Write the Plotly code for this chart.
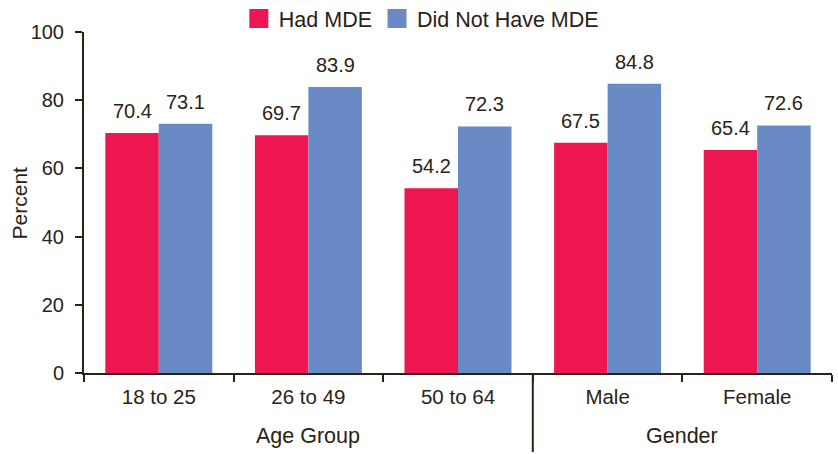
import plotly.graph_objects as go

# Percent by age group and gender, split by major depressive episode status
categories = ["18 to 25", "26 to 49", "50 to 64", "Male", "Female"]
had_mde = [70.4, 69.7, 54.2, 67.5, 65.4]
no_mde = [73.1, 83.9, 72.3, 84.8, 72.6]
series_names = ["Had MDE", "Did Not Have MDE"]
y_ticks = [0, 20, 40, 60, 80, 100]
group_labels = ["Age Group", "Gender"]
y_title = "Percent"

RED = "#EE1651"
BLUE = "#6A8AC5"
INK = "#2B2216"
FONT = "Liberation Sans, Arial, Helvetica, sans-serif"
BARGAP = 0.285

fig = go.Figure()

for name, vals, col in [(series_names[0], had_mde, RED), (series_names[1], no_mde, BLUE)]:
    fig.add_trace(go.Bar(
        x=categories, y=vals, name=name, marker=dict(color=col, line=dict(width=0)),
        showlegend=False,
    ))
    # legend swatch
    fig.add_trace(go.Scatter(
        x=[None], y=[None], name=name, mode="markers",
        marker=dict(symbol="square", size=16, color=col, line=dict(color=col, width=3)),
        showlegend=True,
    ))

# value labels above each bar
half = (1 - BARGAP) / 4
annotations = []
for i, cat in enumerate(categories):
    for vals, off in [(had_mde, -half), (no_mde, half)]:
        annotations.append(dict(
            x=i + off, y=vals[i], xref="x", yref="y", text=f"{vals[i]:.1f}",
            showarrow=False, yanchor="bottom", xanchor="center", yshift=9,
            font=dict(family=FONT, size=20, color=INK),
        ))

# group labels under the category axis
for label, xpos in zip(group_labels, [1, 3.5]):
    annotations.append(dict(
        x=xpos, y=-0.186, xref="x", yref="paper", text=label, showarrow=False,
        xanchor="center", yanchor="middle",
        font=dict(family=FONT, size=21.5, color=INK),
    ))

# rotated y-axis title
annotations.append(dict(
    x=-0.0856, y=0.5, xref="paper", yref="paper", text=y_title, showarrow=False,
    textangle=-90, xanchor="center", yanchor="middle",
    font=dict(family=FONT, size=21, color=INK),
))

fig.update_layout(
    width=838, height=454,
    margin=dict(l=84, r=6, t=32, b=81, pad=0, autoexpand=False),
    paper_bgcolor="white", plot_bgcolor="white",
    barmode="group", bargap=BARGAP, bargroupgap=0,
    font=dict(family=FONT, size=20, color=INK),
    showlegend=True,
    legend=dict(
        orientation="h", x=0.207, xanchor="left", y=1.0396, yanchor="middle",
        font=dict(family=FONT, size=21.5, color=INK), itemsizing="trace",
        bgcolor="rgba(0,0,0,0)", borderwidth=0,
    ),
    annotations=annotations,
    shapes=[dict(
        type="line", xref="paper", yref="paper", x0=0.6, x1=0.6, y0=0, y1=-0.232,
        line=dict(color=INK, width=2),
    )],
)

fig.update_xaxes(
    type="category", range=[-0.5, 4.5], showline=True, linecolor=INK, linewidth=2,
    ticks="outside", tickson="boundaries", ticklen=7, tickwidth=2, tickcolor=INK,
    showgrid=False, zeroline=False, tickfont=dict(family=FONT, size=20.5, color=INK),
    ticklabelstandoff=4, automargin=False,
)
fig.update_yaxes(
    range=[0, 100], tickvals=y_ticks, showline=True, linecolor=INK, linewidth=2,
    ticks="outside", ticklen=7, tickwidth=2, tickcolor=INK, showgrid=False,
    zeroline=False, tickfont=dict(family=FONT, size=20, color=INK),
    ticklabelstandoff=7, automargin=False,
)

fig.write_html("out.html")
